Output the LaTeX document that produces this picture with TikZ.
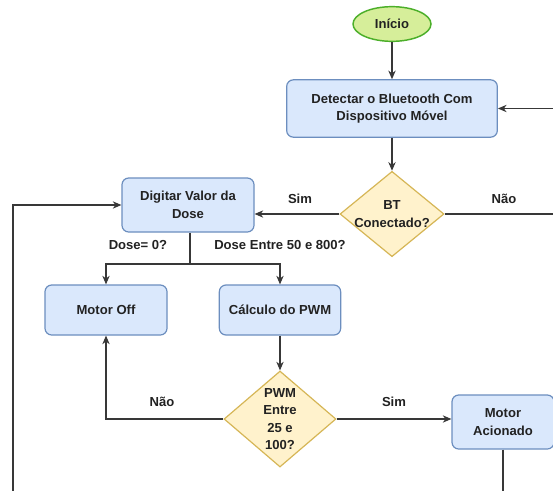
\documentclass[tikz,border=0pt]{standalone}
\usepackage{fontspec}
\setmainfont{Liberation Sans}
\usetikzlibrary{calc, positioning}
\usetikzlibrary{arrows.meta}
\usetikzlibrary{shapes.geometric}
\definecolor{boxfill}{HTML}{DAE8FC}
\definecolor{boxline}{HTML}{6C8EBF}
\definecolor{decfill}{HTML}{FFF2CC}
\definecolor{decline}{HTML}{D6B656}
\definecolor{startfill}{HTML}{D6EE9A}
\definecolor{startline}{HTML}{4CAF2A}
\definecolor{ink}{HTML}{222222}

\begin{document}
\begin{tikzpicture}[x=0.75pt, y=-0.75pt,
  font=\fontsize{9.8}{13.2}\selectfont\bfseries, text=ink,
  process/.style={draw=boxline, fill=boxfill, rounded corners=5pt, line width=0.9pt,
    align=center, inner sep=0pt},
  decision/.style={diamond, draw=decline, fill=decfill, line width=0.9pt, inner sep=0pt},
  dtext/.style={align=center, text=ink},
  startnode/.style={ellipse, draw=startline, fill=startfill, line width=1.1pt, inner sep=0pt},
  flow/.style={draw=ink!90, line width=0.8pt, -{Stealth[length=6.5pt, width=5.5pt]}},
  plain/.style={draw=ink!90, line width=0.8pt}]
\useasboundingbox (0,0) rectangle (553,490);
\clip (0,0) rectangle (553,490);
\fill[white] (0,0) rectangle (553,490);

% nodes
\node[startnode, minimum width=58.5pt, minimum height=26pt] (inicio) at (392,24) {Início};
\node[process, minimum width=158pt, minimum height=43pt] (detectar) at (392,108.5)
  {Detectar o Bluetooth Com\\Dispositivo Móvel};
\node[decision, minimum width=78pt, minimum height=64pt,
  label={[dtext]center:BT\\Conectado?}] (bt) at (392,214) {};
\node[process, minimum width=99pt, minimum height=40.5pt] (digitar) at (188,205)
  {Digitar Valor da\\Dose};
\node[process, minimum width=91.5pt, minimum height=37.5pt] (motoroff) at (106,310) {Motor Off};
\node[process, minimum width=91pt, minimum height=37.5pt] (calculo) at (280,310) {Cálculo do PWM};
\node[decision, minimum width=84pt, minimum height=72pt,
  label={[dtext]center:PWM\\Entre\\25 e\\100?}] (pwm) at (280,419) {};
\node[process, minimum width=76.5pt, minimum height=40.5pt] (acionado) at (503,422)
  {Motor\\Acionado};

\coordinate (split) at (190,264);
\coordinate (loop) at (13,520);

% connectors
\draw[flow] (inicio) -- (detectar);
\draw[flow] (detectar) -- (bt);
\draw[flow] (bt.west) -- (bt.west -| digitar.east);
\draw[flow] (bt.east) -- ++(140,0) |- (detectar.east);
\draw[plain] (digitar.south -| split) -- (split);
\draw[flow] (split) -| (motoroff.north);
\draw[flow] (split) -| (calculo.north);
\draw[flow] (calculo) -- (pwm);
\draw[flow] (pwm.west) -| (motoroff.south);
\draw[flow] (pwm.east) -- (pwm.east -| acionado.west);
\draw[flow] (acionado.south) |- (loop) |- (digitar.west);

% labels
\node (simbt) at (300,199) {Sim};
\node (naobt) at (504,199) {Não};
\node (dosezero) at (138,245) {Dose= 0?};
\node (doseentre) at (280,245) {Dose Entre 50 e 800?};
\node (naopwm) at (162,402) {Não};
\node (simpwm) at (394,402) {Sim};
\end{tikzpicture}
\end{document}
